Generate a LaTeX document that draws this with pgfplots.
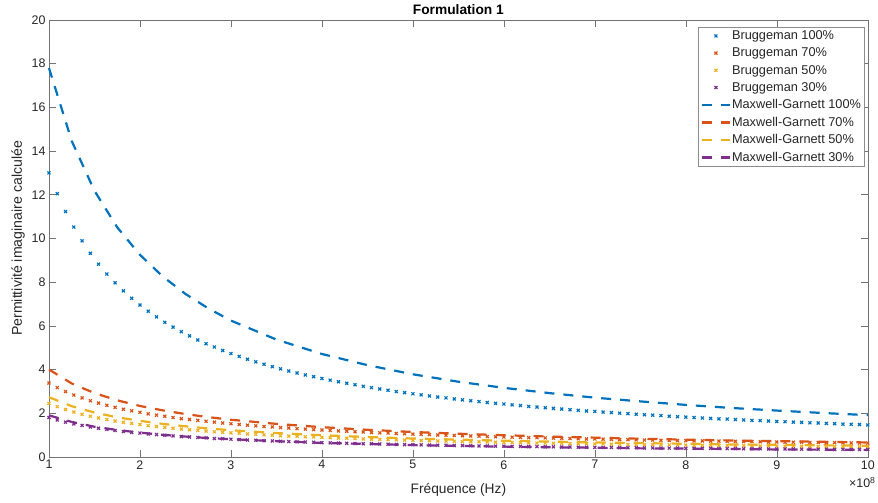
\documentclass[border=0pt]{standalone}
\usepackage{fontspec}
\setmainfont{Liberation Sans}
\usepackage{pgfplots}
\usepackage{pgfplotstable}
\pgfplotsset{compat=1.18}
\definecolor{mblue}{rgb}{0,0.447,0.741}
\definecolor{morange}{rgb}{0.85,0.325,0.098}
\definecolor{myellow}{rgb}{0.929,0.694,0.125}
\definecolor{mpurple}{rgb}{0.494,0.184,0.556}

\pgfplotstableread{
x b100 b70 b50 b30
1.000 13.00 3.38 2.45 1.80
1.091 12.05 3.17 2.30 1.69
1.182 11.23 2.99 2.17 1.59
1.273 10.52 2.83 2.05 1.51
1.364 9.89 2.70 1.95 1.44
1.455 9.32 2.57 1.86 1.37
1.545 8.82 2.46 1.78 1.31
1.636 8.37 2.36 1.71 1.26
1.727 7.97 2.27 1.64 1.21
1.818 7.60 2.18 1.58 1.16
1.909 7.26 2.11 1.53 1.12
2.000 6.95 2.04 1.48 1.09
2.091 6.67 1.97 1.43 1.05
2.182 6.41 1.91 1.39 1.02
2.273 6.16 1.86 1.35 0.99
2.364 5.94 1.80 1.31 0.96
2.455 5.73 1.75 1.27 0.93
2.545 5.54 1.71 1.24 0.91
2.636 5.35 1.67 1.21 0.89
2.727 5.18 1.63 1.18 0.87
2.818 5.03 1.59 1.15 0.84
2.909 4.87 1.55 1.12 0.83
3.000 4.73 1.52 1.10 0.81
3.091 4.60 1.48 1.08 0.79
3.182 4.47 1.45 1.05 0.77
3.273 4.35 1.42 1.03 0.76
3.364 4.24 1.39 1.01 0.74
3.455 4.13 1.37 0.99 0.73
3.545 4.03 1.34 0.97 0.71
3.636 3.93 1.32 0.95 0.70
3.727 3.84 1.29 0.94 0.69
3.818 3.75 1.27 0.92 0.68
3.909 3.67 1.25 0.91 0.67
4.000 3.59 1.23 0.89 0.65
4.091 3.51 1.21 0.88 0.64
4.182 3.44 1.19 0.86 0.63
4.273 3.37 1.17 0.85 0.62
4.364 3.30 1.15 0.84 0.61
4.455 3.23 1.14 0.82 0.60
4.545 3.17 1.12 0.81 0.60
4.636 3.11 1.10 0.80 0.59
4.727 3.05 1.09 0.79 0.58
4.818 2.99 1.07 0.78 0.57
4.909 2.94 1.06 0.77 0.56
5.000 2.89 1.04 0.76 0.56
5.091 2.84 1.03 0.75 0.55
5.182 2.79 1.02 0.74 0.54
5.273 2.74 1.00 0.73 0.53
5.364 2.70 0.99 0.72 0.53
5.455 2.65 0.98 0.71 0.52
5.545 2.61 0.97 0.70 0.52
5.636 2.57 0.96 0.69 0.51
5.727 2.53 0.95 0.69 0.50
5.818 2.49 0.93 0.68 0.50
5.909 2.45 0.92 0.67 0.49
6.000 2.42 0.91 0.66 0.49
6.091 2.38 0.90 0.66 0.48
6.182 2.35 0.89 0.65 0.48
6.273 2.31 0.88 0.64 0.47
6.364 2.28 0.88 0.63 0.47
6.455 2.25 0.87 0.63 0.46
6.545 2.22 0.86 0.62 0.46
6.636 2.19 0.85 0.62 0.45
6.727 2.16 0.84 0.61 0.45
6.818 2.13 0.83 0.60 0.44
6.909 2.10 0.82 0.60 0.44
7.000 2.08 0.82 0.59 0.43
7.091 2.05 0.81 0.59 0.43
7.182 2.03 0.80 0.58 0.43
7.273 2.00 0.79 0.58 0.42
7.364 1.98 0.79 0.57 0.42
7.455 1.95 0.78 0.57 0.42
7.545 1.93 0.77 0.56 0.41
7.636 1.91 0.77 0.56 0.41
7.727 1.89 0.76 0.55 0.40
7.818 1.86 0.75 0.55 0.40
7.909 1.84 0.75 0.54 0.40
8.000 1.82 0.74 0.54 0.39
8.091 1.80 0.73 0.53 0.39
8.182 1.78 0.73 0.53 0.39
8.273 1.76 0.72 0.52 0.39
8.364 1.74 0.72 0.52 0.38
8.455 1.73 0.71 0.52 0.38
8.545 1.71 0.71 0.51 0.38
8.636 1.69 0.70 0.51 0.37
8.727 1.67 0.70 0.50 0.37
8.818 1.66 0.69 0.50 0.37
8.909 1.64 0.68 0.50 0.36
9.000 1.62 0.68 0.49 0.36
9.091 1.61 0.67 0.49 0.36
9.182 1.59 0.67 0.49 0.36
9.273 1.58 0.67 0.48 0.35
9.364 1.56 0.66 0.48 0.35
9.455 1.55 0.66 0.48 0.35
9.545 1.53 0.65 0.47 0.35
9.636 1.52 0.65 0.47 0.34
9.727 1.50 0.64 0.47 0.34
9.818 1.49 0.64 0.46 0.34
9.909 1.48 0.63 0.46 0.34
10.000 1.46 0.63 0.46 0.34
}\brug

\pgfplotstableread{
x m100 m70 m50 m30
1.00 17.80 4.00 2.73 1.90
1.25 14.46 3.36 2.32 1.60
1.50 12.18 2.92 2.03 1.38
1.75 10.51 2.59 1.81 1.23
2.00 9.25 2.33 1.65 1.11
2.25 8.26 2.13 1.51 1.01
2.50 7.46 1.96 1.40 0.93
2.75 6.80 1.82 1.30 0.86
3.00 6.24 1.70 1.22 0.81
3.50 5.37 1.51 1.09 0.72
4.00 4.71 1.36 0.99 0.64
4.50 4.20 1.24 0.91 0.59
5.00 3.78 1.14 0.84 0.54
5.50 3.44 1.06 0.79 0.50
6.00 3.16 0.99 0.74 0.47
6.50 2.92 0.93 0.70 0.44
7.00 2.71 0.88 0.66 0.42
7.50 2.54 0.83 0.63 0.39
8.00 2.38 0.79 0.60 0.38
8.50 2.24 0.75 0.57 0.36
9.00 2.12 0.72 0.55 0.34
9.50 2.01 0.69 0.53 0.33
10.00 1.91 0.66 0.51 0.32
}\mg

\begin{document}
\begin{tikzpicture}
\begin{axis}[
  scale only axis, width=819bp, height=437bp,
  xmin=1, xmax=10, ymin=0, ymax=20,
  xtick={1,2,...,10}, ytick={0,2,...,20},
  tick align=inside, major tick length=7bp,
  axis line style={black!55},
  tick style={black!55, line width=0.5bp},
  tick label style={font=\fontsize{12.5}{14}\selectfont, text=black!85},
  /pgf/number format/assume math mode=true,
  clip=false,
  title={\textbf{Formulation 1}},
  every axis title/.style={at={(axis description cs:0.5,1.0229)}, anchor=center, font=\fontsize{13.8}{15}\selectfont},
  xlabel={Fréquence (Hz)},
  ylabel={Permittivité imaginaire calculée},
  every axis x label/.style={at={(axis description cs:0.5,-0.0755)}, anchor=center, font=\fontsize{13.8}{15}\selectfont, text=black!85},
  every axis y label/.style={at={(axis description cs:-0.0378,0.5)}, rotate=90, anchor=center, font=\fontsize{14.2}{15}\selectfont, text=black!85},
  legend cell align=left,
  legend style={at={(rel axis cs:0.9963,0.984)}, anchor=north east, draw=black!45, line width=0.5bp,
    font=\fontsize{12.8}{14}\selectfont, inner sep=2.5bp, row sep=4.8bp,
    nodes={inner sep=1bp, text=black!85}},
  legend image code/.code={\draw[mark repeat=2, mark phase=2, #1] plot coordinates {(0bp,0bp) (14bp,0bp) (28bp,0bp)};},
]
\addplot[only marks, mark=x, mark size=2.1bp, mblue, line width=1.2bp] table[x=x,y=b100]{\brug};
\addlegendentry{Bruggeman 100\%}
\addplot[only marks, mark=x, mark size=2.1bp, morange, line width=1.2bp] table[x=x,y=b70]{\brug};
\addlegendentry{Bruggeman 70\%}
\addplot[only marks, mark=x, mark size=2.1bp, myellow, line width=1.2bp] table[x=x,y=b50]{\brug};
\addlegendentry{Bruggeman 50\%}
\addplot[only marks, mark=x, mark size=2.1bp, mpurple, line width=1.2bp] table[x=x,y=b30]{\brug};
\addlegendentry{Bruggeman 30\%}
\addplot[mblue, line width=2.2bp, dash pattern=on 10bp off 9bp] table[x=x,y=m100]{\mg};
\addlegendentry{Maxwell-Garnett 100\%}
\addplot[morange, line width=2.2bp, dash pattern=on 10bp off 9bp] table[x=x,y=m70]{\mg};
\addlegendentry{Maxwell-Garnett 70\%}
\addplot[myellow, line width=2.2bp, dash pattern=on 10bp off 9bp] table[x=x,y=m50]{\mg};
\addlegendentry{Maxwell-Garnett 50\%}
\addplot[mpurple, line width=2.2bp, dash pattern=on 10bp off 9bp] table[x=x,y=m30]{\mg};
\addlegendentry{Maxwell-Garnett 30\%}
\node[anchor=north east, font=\fontsize{12.5}{14}\selectfont, text=black!85, inner sep=0pt] at (rel axis cs:1,0) [yshift=-20bp, xshift=8bp] {×10\textsuperscript{8}};
\path (rel axis cs:0,0) ++(-49bp,-46bp);
\path (rel axis cs:1,1) ++(10bp,20bp);
\end{axis}
\end{tikzpicture}
\end{document}
